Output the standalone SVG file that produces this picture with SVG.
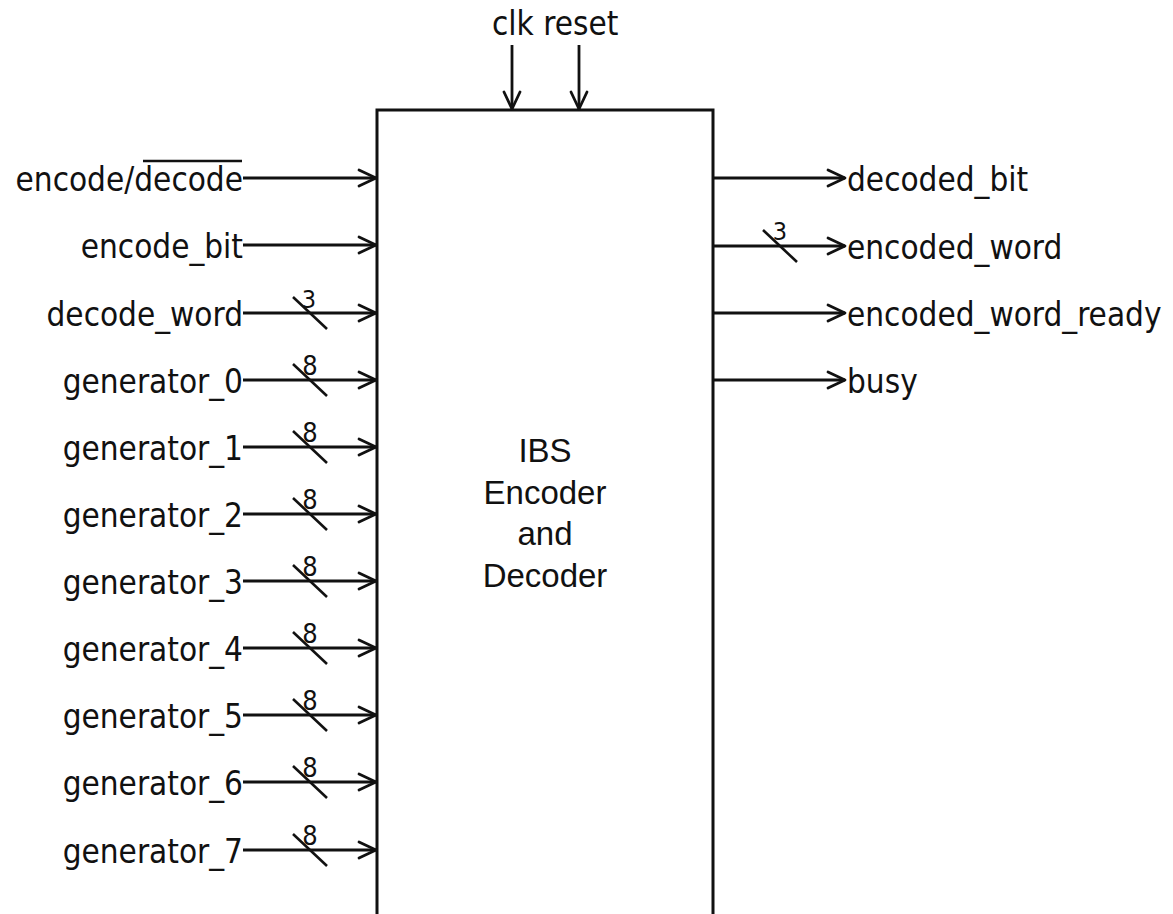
<svg xmlns="http://www.w3.org/2000/svg" width="1173" height="914" viewBox="0 0 1173 914">
  <style>
    .wire { stroke: #111; stroke-width: 2.8; fill: none; }
    .head { stroke: #111; stroke-width: 2.8; fill: none; stroke-linecap: round; stroke-linejoin: round; }
    .bus { stroke: #111; stroke-width: 2.6; fill: none; }
    .lbl { font-family: "DejaVu Sans Condensed", "DejaVu Sans", sans-serif; font-stretch: condensed; font-size: 33px; fill: #111; }
    .w8 { font-family: "DejaVu Sans Condensed", "DejaVu Sans", sans-serif; font-stretch: condensed; font-size: 27px; fill: #111; text-anchor: middle; }
    .w3 { font-family: "DejaVu Sans Condensed", "DejaVu Sans", sans-serif; font-stretch: condensed; font-size: 25px; fill: #111; text-anchor: middle; }
    .title { font-family: "Liberation Sans", Arial, sans-serif; font-size: 33px; fill: #111; text-anchor: middle; }
  </style>
  <defs>
    <!-- open chevron pointing right, tip at origin -->
    <path id="hr" class="head" d="M-17,-8 L0,0 L-17,8"/>
    <!-- open chevron pointing down, tip at origin -->
    <path id="hd" class="head" d="M-8,-17 L0,0 L8,-17"/>
    <!-- bus width slash centred on origin -->
    <path id="slash" class="bus" d="M-17,-16 L17,16"/>
  </defs>
  <rect width="1173" height="914" fill="#ffffff"/>

  <g id="block">
    <path d="M377,930 V110 H713 V930" fill="#ffffff" stroke="#111" stroke-width="3"/>
    <text class="title" x="545" y="462">IBS</text>
    <text class="title" x="545" y="504">Encoder</text>
    <text class="title" x="545" y="545">and</text>
    <text class="title" x="545" y="587">Decoder</text>
  </g>

  <g id="connectors">
    <!-- top inputs -->
    <line class="wire" x1="512" y1="45" x2="512" y2="109"/>
    <use href="#hd" x="512" y="109"/>
    <line class="wire" x1="579" y1="45" x2="579" y2="109"/>
    <use href="#hd" x="579" y="109"/>

    <!-- left inputs -->
    <line class="wire" x1="243" y1="178" x2="376" y2="178"/><use href="#hr" x="376" y="178"/>
    <line class="wire" x1="243" y1="245" x2="376" y2="245"/><use href="#hr" x="376" y="245"/>
    <line class="wire" x1="243" y1="313" x2="376" y2="313"/><use href="#hr" x="376" y="313"/>
    <line class="wire" x1="243" y1="380" x2="376" y2="380"/><use href="#hr" x="376" y="380"/>
    <line class="wire" x1="243" y1="447" x2="376" y2="447"/><use href="#hr" x="376" y="447"/>
    <line class="wire" x1="243" y1="514" x2="376" y2="514"/><use href="#hr" x="376" y="514"/>
    <line class="wire" x1="243" y1="581" x2="376" y2="581"/><use href="#hr" x="376" y="581"/>
    <line class="wire" x1="243" y1="648" x2="376" y2="648"/><use href="#hr" x="376" y="648"/>
    <line class="wire" x1="243" y1="715" x2="376" y2="715"/><use href="#hr" x="376" y="715"/>
    <line class="wire" x1="243" y1="782" x2="376" y2="782"/><use href="#hr" x="376" y="782"/>
    <line class="wire" x1="243" y1="850" x2="376" y2="850"/><use href="#hr" x="376" y="850"/>

    <!-- right outputs -->
    <line class="wire" x1="714" y1="178" x2="845" y2="178"/><use href="#hr" x="845" y="178"/>
    <line class="wire" x1="714" y1="246" x2="845" y2="246"/><use href="#hr" x="845" y="246"/>
    <line class="wire" x1="714" y1="313" x2="845" y2="313"/><use href="#hr" x="845" y="313"/>
    <line class="wire" x1="714" y1="380" x2="845" y2="380"/><use href="#hr" x="845" y="380"/>

    <!-- bus width marks -->
    <use href="#slash" x="310" y="313"/><text class="w3" x="309" y="308">3</text>
    <use href="#slash" x="310" y="380"/><text class="w8" x="310" y="375">8</text>
    <use href="#slash" x="310" y="447"/><text class="w8" x="310" y="442">8</text>
    <use href="#slash" x="310" y="514"/><text class="w8" x="310" y="509">8</text>
    <use href="#slash" x="310" y="581"/><text class="w8" x="310" y="576">8</text>
    <use href="#slash" x="310" y="648"/><text class="w8" x="310" y="643">8</text>
    <use href="#slash" x="310" y="715"/><text class="w8" x="310" y="710">8</text>
    <use href="#slash" x="310" y="782"/><text class="w8" x="310" y="777">8</text>
    <use href="#slash" x="310" y="850"/><text class="w8" x="310" y="845">8</text>
    <use href="#slash" x="780" y="246"/><text class="w3" x="780" y="240">3</text>
  </g>

  <g id="top-labels">
    <text class="lbl" x="492" y="35">clk reset</text>
  </g>

  <g id="inputs" text-anchor="end">
    <text class="lbl" x="243" y="191">encode/decode</text>
    <line x1="143" y1="161" x2="242" y2="161" stroke="#111" stroke-width="2.4"/>
    <text class="lbl" x="243" y="258">encode_bit</text>
    <text class="lbl" x="243" y="326">decode_word</text>
    <text class="lbl" x="243" y="393">generator_0</text>
    <text class="lbl" x="243" y="460">generator_1</text>
    <text class="lbl" x="243" y="527">generator_2</text>
    <text class="lbl" x="243" y="594">generator_3</text>
    <text class="lbl" x="243" y="661">generator_4</text>
    <text class="lbl" x="243" y="728">generator_5</text>
    <text class="lbl" x="243" y="795">generator_6</text>
    <text class="lbl" x="243" y="863">generator_7</text>
  </g>

  <g id="outputs">
    <text class="lbl" x="847" y="191">decoded_bit</text>
    <text class="lbl" x="847" y="259">encoded_word</text>
    <text class="lbl" x="847" y="326">encoded_word_ready</text>
    <text class="lbl" x="847" y="393">busy</text>
  </g>
</svg>
